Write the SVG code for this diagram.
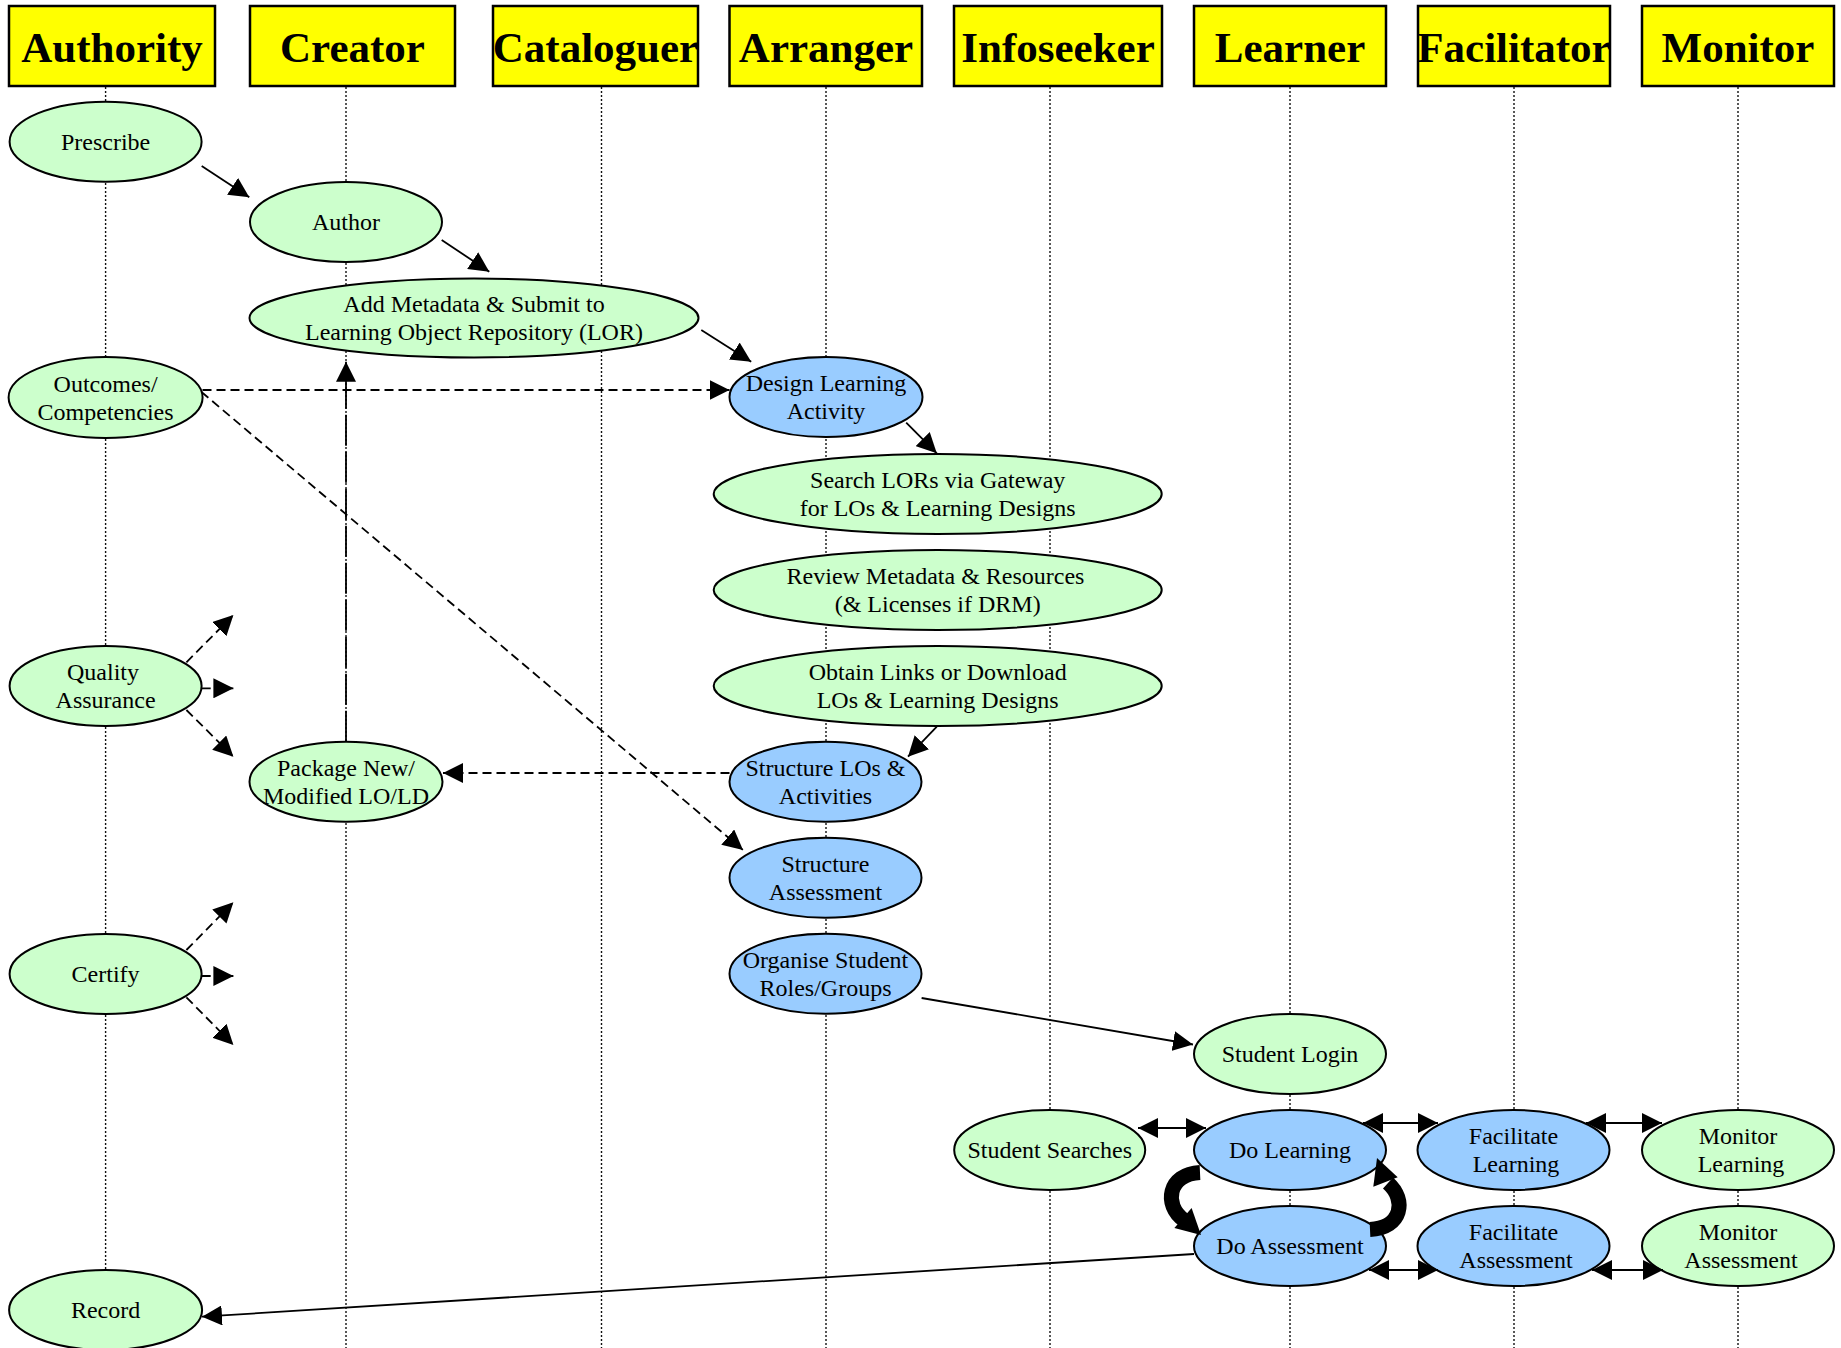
<svg xmlns="http://www.w3.org/2000/svg" width="1841" height="1348" viewBox="0 0 1841 1348">
<style>
.hdr{fill:#FFFF00;stroke:#000;stroke-width:2.5}
.ht{font-family:"Liberation Serif","Times New Roman",serif;font-weight:bold;font-size:43px;text-anchor:middle;fill:#000}
.life{stroke:#111;stroke-width:1.4;stroke-dasharray:2 2;fill:none}
.g{fill:#CCFFCC;stroke:#000;stroke-width:2}
.b{fill:#99CCFF;stroke:#000;stroke-width:2}
.t{font-family:"Liberation Serif","Times New Roman",serif;font-size:24px;text-anchor:middle;fill:#000}
.c{stroke:#000;stroke-width:1.8;fill:none}
.ds{stroke-dasharray:9 5}
.dl{stroke-dasharray:31 6}
.thick{stroke:#000;stroke-width:15;fill:none}
</style>
<defs>
<marker id="ah" markerUnits="userSpaceOnUse" markerWidth="20" markerHeight="20" refX="20" refY="10" orient="auto-start-reverse" viewBox="0 0 20 20">
<path d="M0,0 L20,10 L0,20 Z" fill="#000"/>
</marker>
</defs>
<rect width="1841" height="1348" fill="#fff"/>
<g id="lifelines">
<line class="life" x1="105.6" y1="87" x2="105.6" y2="1348"/>
<line class="life" x1="346" y1="87" x2="346" y2="1348"/>
<line class="life" x1="601.5" y1="87" x2="601.5" y2="1348"/>
<line class="life" x1="826" y1="87" x2="826" y2="1348"/>
<line class="life" x1="1050" y1="87" x2="1050" y2="1348"/>
<line class="life" x1="1290" y1="87" x2="1290" y2="1348"/>
<line class="life" x1="1514" y1="87" x2="1514" y2="1348"/>
<line class="life" x1="1738" y1="87" x2="1738" y2="1348"/>
</g>
<g id="lane-authority"><rect class="hdr" x="9" y="6" width="206" height="80"/><text class="ht" x="112" y="62">Authority</text></g>
<g id="lane-creator"><rect class="hdr" x="250" y="6" width="205" height="80"/><text class="ht" x="352.5" y="62">Creator</text></g>
<g id="lane-cataloguer"><rect class="hdr" x="493" y="6" width="205" height="80"/><text class="ht" x="595.5" y="62">Cataloguer</text></g>
<g id="lane-arranger"><rect class="hdr" x="729.5" y="6" width="192.5" height="80"/><text class="ht" x="826" y="62">Arranger</text></g>
<g id="lane-infoseeker"><rect class="hdr" x="954" y="6" width="208" height="80"/><text class="ht" x="1058" y="62">Infoseeker</text></g>
<g id="lane-learner"><rect class="hdr" x="1194" y="6" width="192" height="80"/><text class="ht" x="1290" y="62">Learner</text></g>
<g id="lane-facilitator"><rect class="hdr" x="1418" y="6" width="192" height="80"/><text class="ht" x="1514" y="62">Facilitator</text></g>
<g id="lane-monitor"><rect class="hdr" x="1642" y="6" width="192" height="80"/><text class="ht" x="1738" y="62">Monitor</text></g>

<g id="prescribe"><ellipse class="g" cx="105.6" cy="141.7" rx="96" ry="40"/><text class="t" x="105.6" y="150">Prescribe</text></g>
<g id="author"><ellipse class="g" cx="346" cy="222" rx="96" ry="40"/><text class="t" x="346" y="230">Author</text></g>
<g id="addmeta"><ellipse class="g" cx="474" cy="318" rx="224.5" ry="39.5"/><text class="t" x="474" y="312">Add Metadata &amp; Submit to</text><text class="t" x="474" y="340">Learning Object Repository (LOR)</text></g>
<g id="outcomes"><ellipse class="g" cx="105.6" cy="397.5" rx="97" ry="40.5"/><text class="t" x="105.6" y="391.5">Outcomes/</text><text class="t" x="105.6" y="419.5">Competencies</text></g>
<g id="design"><ellipse class="b" cx="826" cy="397" rx="96.5" ry="40"/><text class="t" x="826" y="391">Design Learning</text><text class="t" x="826" y="419">Activity</text></g>
<g id="search"><ellipse class="g" cx="937.7" cy="494" rx="224" ry="40"/><text class="t" x="937.7" y="488">Search LORs via Gateway</text><text class="t" x="937.7" y="516">for LOs &amp; Learning Designs</text></g>
<g id="review"><ellipse class="g" cx="937.7" cy="590" rx="224" ry="40"/><text class="t" x="935.5" y="584">Review Metadata &amp; Resources</text><text class="t" x="937.7" y="612">(&amp; Licenses if DRM)</text></g>
<g id="obtain"><ellipse class="g" cx="937.7" cy="686" rx="224" ry="40"/><text class="t" x="937.7" y="680">Obtain Links or Download</text><text class="t" x="937.7" y="708">LOs &amp; Learning Designs</text></g>
<g id="quality"><ellipse class="g" cx="105.6" cy="686" rx="96" ry="40"/><text class="t" x="103" y="680">Quality</text><text class="t" x="105.6" y="708">Assurance</text></g>
<g id="package"><ellipse class="g" cx="346" cy="781.7" rx="96.5" ry="40"/><text class="t" x="346" y="775.7">Package New/</text><text class="t" x="346" y="803.7">Modified LO/LD</text></g>
<g id="structlos"><ellipse class="b" cx="825.5" cy="781.7" rx="96" ry="40"/><text class="t" x="825.5" y="775.7">Structure LOs &amp;</text><text class="t" x="825.5" y="803.7">Activities</text></g>
<g id="structassess"><ellipse class="b" cx="825.5" cy="877.7" rx="96" ry="40"/><text class="t" x="825.5" y="871.7">Structure</text><text class="t" x="825.5" y="899.7">Assessment</text></g>
<g id="certify"><ellipse class="g" cx="105.6" cy="974" rx="96" ry="40"/><text class="t" x="105.6" y="982">Certify</text></g>
<g id="organise"><ellipse class="b" cx="825.5" cy="973.7" rx="96" ry="40"/><text class="t" x="825.5" y="967.7">Organise Student</text><text class="t" x="825.5" y="995.7">Roles/Groups</text></g>
<g id="login"><ellipse class="g" cx="1290" cy="1054" rx="96" ry="40"/><text class="t" x="1290" y="1062">Student Login</text></g>
<g id="searches"><ellipse class="g" cx="1049.7" cy="1150" rx="95.5" ry="40"/><text class="t" x="1049.7" y="1158">Student Searches</text></g>
<g id="dolearning"><ellipse class="b" cx="1290" cy="1150" rx="96" ry="40"/><text class="t" x="1290" y="1158">Do Learning</text></g>
<g id="faclearning"><ellipse class="b" cx="1513.5" cy="1150" rx="96" ry="40"/><text class="t" x="1513.5" y="1144">Facilitate</text><text class="t" x="1516" y="1172">Learning</text></g>
<g id="monlearning"><ellipse class="g" cx="1738" cy="1150" rx="96" ry="40"/><text class="t" x="1738" y="1144">Monitor</text><text class="t" x="1741" y="1172">Learning</text></g>
<g id="doassessment"><ellipse class="b" cx="1290" cy="1246" rx="96" ry="40"/><text class="t" x="1290" y="1254">Do Assessment</text></g>
<g id="facassessment"><ellipse class="b" cx="1513.5" cy="1246" rx="96" ry="40"/><text class="t" x="1513.5" y="1240">Facilitate</text><text class="t" x="1516" y="1268">Assessment</text></g>
<g id="monassessment"><ellipse class="g" cx="1738" cy="1246" rx="96" ry="40"/><text class="t" x="1738" y="1240">Monitor</text><text class="t" x="1741" y="1268">Assessment</text></g>
<g id="record"><ellipse class="g" cx="105.6" cy="1310" rx="96.5" ry="40"/><text class="t" x="105.6" y="1318">Record</text></g>

<g id="connectors">
<line class="c" x1="201.7" y1="166" x2="249.3" y2="197.3" marker-end="url(#ah)"/>
<line class="c" x1="441.7" y1="240" x2="489.3" y2="271.7" marker-end="url(#ah)"/>
<line class="c" x1="701.3" y1="330" x2="751.2" y2="361.7" marker-end="url(#ah)"/>
<line class="c ds" x1="202.5" y1="390" x2="729.5" y2="390" marker-end="url(#ah)"/>
<line class="c ds" x1="201.5" y1="392" x2="743" y2="850" marker-end="url(#ah)"/>
<line class="c dl" x1="346" y1="741.7" x2="346" y2="361.7" marker-end="url(#ah)"/>
<line class="c ds" x1="729.5" y1="773" x2="443" y2="773" marker-end="url(#ah)"/>
<line class="c" x1="906.2" y1="422.7" x2="936.8" y2="453.3" marker-end="url(#ah)"/>
<line class="c" x1="936.8" y1="726.7" x2="908" y2="756.7" marker-end="url(#ah)"/>
<line class="c" x1="921.6" y1="998" x2="1193" y2="1044.5" marker-end="url(#ah)"/>
<line class="c" x1="1194" y1="1254" x2="202" y2="1316.7" marker-end="url(#ah)"/>
<line class="c ds" x1="186.4" y1="662.3" x2="233.4" y2="615" marker-end="url(#ah)"/>
<line class="c ds" x1="201.7" y1="688.3" x2="233.4" y2="688.3" marker-end="url(#ah)"/>
<line class="c ds" x1="186.4" y1="710" x2="233.4" y2="756.7" marker-end="url(#ah)"/>
<line class="c ds" x1="186.4" y1="950" x2="233.4" y2="902.3" marker-end="url(#ah)"/>
<line class="c ds" x1="201.7" y1="976" x2="233.4" y2="976" marker-end="url(#ah)"/>
<line class="c ds" x1="186.4" y1="997.3" x2="233.4" y2="1045" marker-end="url(#ah)"/>
<line class="c" x1="1138" y1="1128" x2="1206" y2="1128" marker-start="url(#ah)" marker-end="url(#ah)"/>
<line class="c" x1="1363" y1="1123" x2="1438" y2="1123" marker-start="url(#ah)" marker-end="url(#ah)"/>
<line class="c" x1="1586" y1="1123" x2="1662" y2="1123" marker-start="url(#ah)" marker-end="url(#ah)"/>
<line class="c" x1="1369" y1="1270" x2="1438" y2="1270" marker-start="url(#ah)" marker-end="url(#ah)"/>
<line class="c" x1="1592" y1="1270" x2="1663" y2="1270" marker-start="url(#ah)" marker-end="url(#ah)"/>
<path class="thick" d="M1200,1172.5 C1168,1174 1163,1205 1184,1220"/>
<polygon points="1201,1235 1174.4,1227.9 1191.6,1208.1" fill="#000"/>
<path class="thick" d="M1370,1229.5 C1402,1228 1407,1200 1388,1183"/>
<polygon points="1377,1158 1397.7,1177.3 1373.3,1186.7" fill="#000"/>
</g>
</svg>
